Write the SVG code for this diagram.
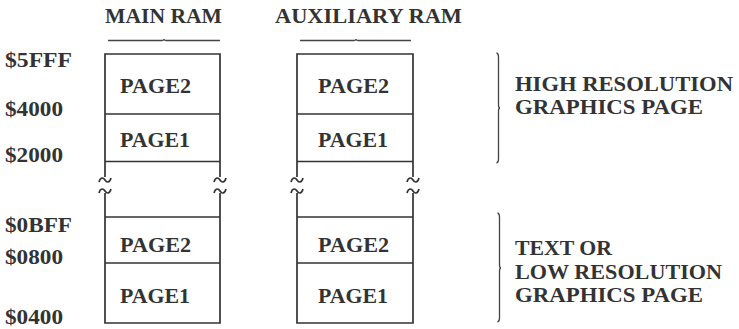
<svg xmlns="http://www.w3.org/2000/svg" width="739" height="329" viewBox="0 0 739 329">
<style>
text{font-family:"Liberation Serif","Times New Roman",serif;font-weight:bold;fill:#333;font-size:21px}
.ln{stroke:#333;stroke-width:1.7;fill:none}
.th{stroke:#444;stroke-width:1.3;fill:none}
</style>
<defs>
<path id="tl" class="ln" d="M -6 2 C -4.5 -3.5 -1.5 -2.5 0 0 C 1.5 2.5 4.5 3.5 6 -2"/>
</defs>
<rect width="739" height="329" fill="#fff"/>
<g id="headers">
<text x="105" y="23" textLength="117" lengthAdjust="spacingAndGlyphs">MAIN RAM</text>
<path class="th" d="M108 40.5 L162 40.5 Q164 40.5 164 39 Q164 40.5 166 40.5 L220 40.5"/>
<text x="275" y="23" textLength="187" lengthAdjust="spacingAndGlyphs">AUXILIARY RAM</text>
<path class="th" d="M300 40.5 L354 40.5 Q356 40.5 356 39 Q356 40.5 358 40.5 L411 40.5"/>
</g>
<g id="addresses">
<text x="5" y="67" textLength="67" lengthAdjust="spacingAndGlyphs">$5FFF</text>
<text x="5" y="116" textLength="58" lengthAdjust="spacingAndGlyphs">$4000</text>
<text x="5" y="162" textLength="58" lengthAdjust="spacingAndGlyphs">$2000</text>
<text x="5" y="232" textLength="67" lengthAdjust="spacingAndGlyphs">$0BFF</text>
<text x="5" y="264" textLength="58" lengthAdjust="spacingAndGlyphs">$0800</text>
<text x="5" y="324" textLength="58" lengthAdjust="spacingAndGlyphs">$0400</text>
</g>
<g id="main-ram">
<path class="ln" d="M105 177 L105 54 L220 54 L220 177 M105 114 L220 114 M105 161.5 L220 161.5"/>
<path class="ln" d="M105 193 L105 323 L220 323 L220 193 M105 217 L220 217 M105 263 L220 263"/>
<use href="#tl" x="105" y="180"/><use href="#tl" x="105" y="191"/>
<use href="#tl" x="220" y="180"/><use href="#tl" x="220" y="191"/>
<text x="120" y="93" textLength="71" lengthAdjust="spacingAndGlyphs">PAGE2</text>
<text x="120" y="147" textLength="70" lengthAdjust="spacingAndGlyphs">PAGE1</text>
<text x="120" y="252" textLength="71" lengthAdjust="spacingAndGlyphs">PAGE2</text>
<text x="120" y="303" textLength="70" lengthAdjust="spacingAndGlyphs">PAGE1</text>
</g>
<g id="aux-ram">
<path class="ln" d="M297 177 L297 54 L413 54 L413 177 M297 114 L413 114 M297 161.5 L413 161.5"/>
<path class="ln" d="M297 193 L297 323 L413 323 L413 193 M297 217 L413 217 M297 263 L413 263"/>
<use href="#tl" x="297" y="180"/><use href="#tl" x="297" y="191"/>
<use href="#tl" x="413" y="180"/><use href="#tl" x="413" y="191"/>
<text x="318" y="93" textLength="71" lengthAdjust="spacingAndGlyphs">PAGE2</text>
<text x="318" y="147" textLength="70" lengthAdjust="spacingAndGlyphs">PAGE1</text>
<text x="318" y="252" textLength="71" lengthAdjust="spacingAndGlyphs">PAGE2</text>
<text x="318" y="303" textLength="70" lengthAdjust="spacingAndGlyphs">PAGE1</text>
</g>
<g id="hires-label">
<path class="th" d="M496.5 53 Q498.5 53.5 498.5 57 L498.5 105 Q498.5 108 500 108 Q498.5 108 498.5 111 L498.5 159 Q498.5 162.5 496.5 163"/>
<text x="515" y="91" textLength="218" lengthAdjust="spacingAndGlyphs">HIGH RESOLUTION</text>
<text x="515" y="114" textLength="188" lengthAdjust="spacingAndGlyphs">GRAPHICS PAGE</text>
</g>
<g id="text-label">
<path class="th" d="M497.5 213 Q499.5 213.5 499.5 217 L499.5 265 Q499.5 268 501 268 Q499.5 268 499.5 271 L499.5 318 Q499.5 321.5 497.5 322"/>
<text x="515" y="255" textLength="97" lengthAdjust="spacingAndGlyphs">TEXT OR</text>
<text x="515" y="279" textLength="207" lengthAdjust="spacingAndGlyphs">LOW RESOLUTION</text>
<text x="515" y="302" textLength="188" lengthAdjust="spacingAndGlyphs">GRAPHICS PAGE</text>
</g>
</svg>
